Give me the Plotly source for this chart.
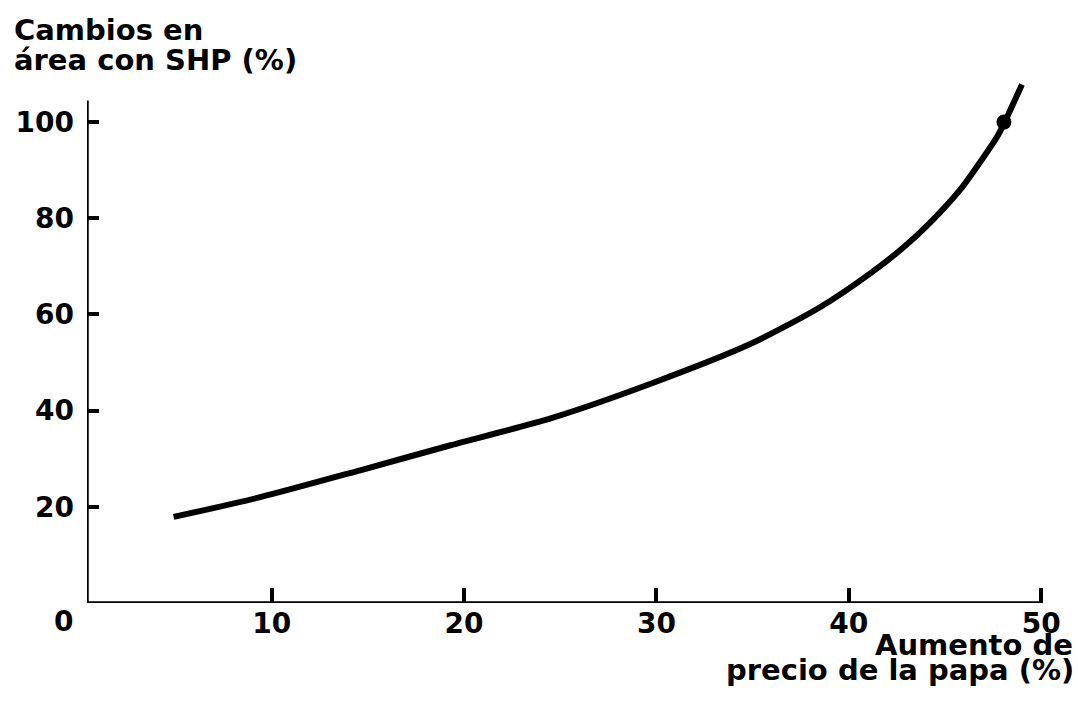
import plotly.graph_objects as go

# ---- data ----
price_increase = [4.9, 9.4, 14.6, 19.3, 24.5, 29.7, 34.9, 38.5, 41.1, 42.8, 44.2, 45.8, 47.0, 47.7, 48.1, 49.0]
area_change = [17.9, 22.0, 27.6, 32.8, 38.4, 45.6, 53.9, 61.5, 68.5, 73.8, 79.0, 86.0, 92.7, 96.9, 100.0, 107.8]
point_x = [48.06]
point_y = [100.0]
x_ticks = [10, 20, 30, 40, 50]
y_ticks = [20, 40, 60, 80, 100]
y_title_lines = ["Cambios en", "área con SHP (%)"]
x_title_lines = ["Aumento de", "precio de la papa (%)"]
origin_label = "0"

W, H = 1078, 712
XR = [0.4, 50.3]
YR = [0, 110]
L, R = 86.9, W - 1047.5
T, B = 73.6, H - 602.7
pw, ph = W - L - R, H - T - B


def px(x):
    return (x - L) / pw


def py(y):
    return (H - B - y) / ph


FONT = dict(family="DejaVu Sans", size=28, color="black", weight="bold")
TFONT = dict(family="DejaVu Sans", size=29, color="black", weight="bold")

fig = go.Figure()
fig.add_trace(go.Scatter(
    x=price_increase, y=area_change, mode="lines",
    line=dict(color="black", width=6, shape="spline", smoothing=0.7),
    hoverinfo="skip", showlegend=False,
))
fig.add_trace(go.Scatter(
    x=point_x, y=point_y, mode="markers",
    marker=dict(color="black", size=15), cliponaxis=False,
    hoverinfo="skip", showlegend=False,
))

# axis lines
fig.add_shape(type="line", x0=XR[0], x1=XR[0], y0=0, y1=104.5,
              line=dict(color="black", width=3.5))
fig.add_shape(type="line", x0=XR[0], x1=50, y0=0, y1=0,
              line=dict(color="black", width=3.5))

fig.update_xaxes(range=XR, tickvals=x_ticks, ticks="inside", ticklen=15,
                 tickwidth=3.5, tickcolor="black", showline=False,
                 showgrid=False, zeroline=False, tickfont=FONT,
                 ticklabelstandoff=1)
fig.update_yaxes(range=YR, tickvals=y_ticks, ticks="inside", ticklen=12,
                 tickwidth=3.5, tickcolor="black", showline=False,
                 showgrid=False, zeroline=False, tickfont=FONT,
                 ticklabelstandoff=12)

anns = [
    dict(text=y_title_lines[0], x=px(12), y=py(29.5), xanchor="left", yanchor="middle"),
    dict(text=y_title_lines[1], x=px(12), y=py(59.5), xanchor="left", yanchor="middle"),
    dict(text=x_title_lines[0], x=px(1076), y=py(645), xanchor="right", yanchor="middle"),
    dict(text=x_title_lines[1], x=px(1077), y=py(670), xanchor="right", yanchor="middle"),
]
for a in anns:
    fig.add_annotation(xref="paper", yref="paper", showarrow=False,
                       font=TFONT, **a)
fig.add_annotation(xref="paper", yref="paper", showarrow=False, font=FONT,
                   text=origin_label, x=px(63), y=py(621),
                   xanchor="center", yanchor="middle")

fig.update_layout(
    width=W, height=H,
    margin=dict(l=L, r=R, t=T, b=B, pad=0),
    paper_bgcolor="white", plot_bgcolor="white",
    font=FONT,
)

fig.write_html("out.html", config={"displayModeBar": False},
               post_script="document.body.style.margin='0px';")
